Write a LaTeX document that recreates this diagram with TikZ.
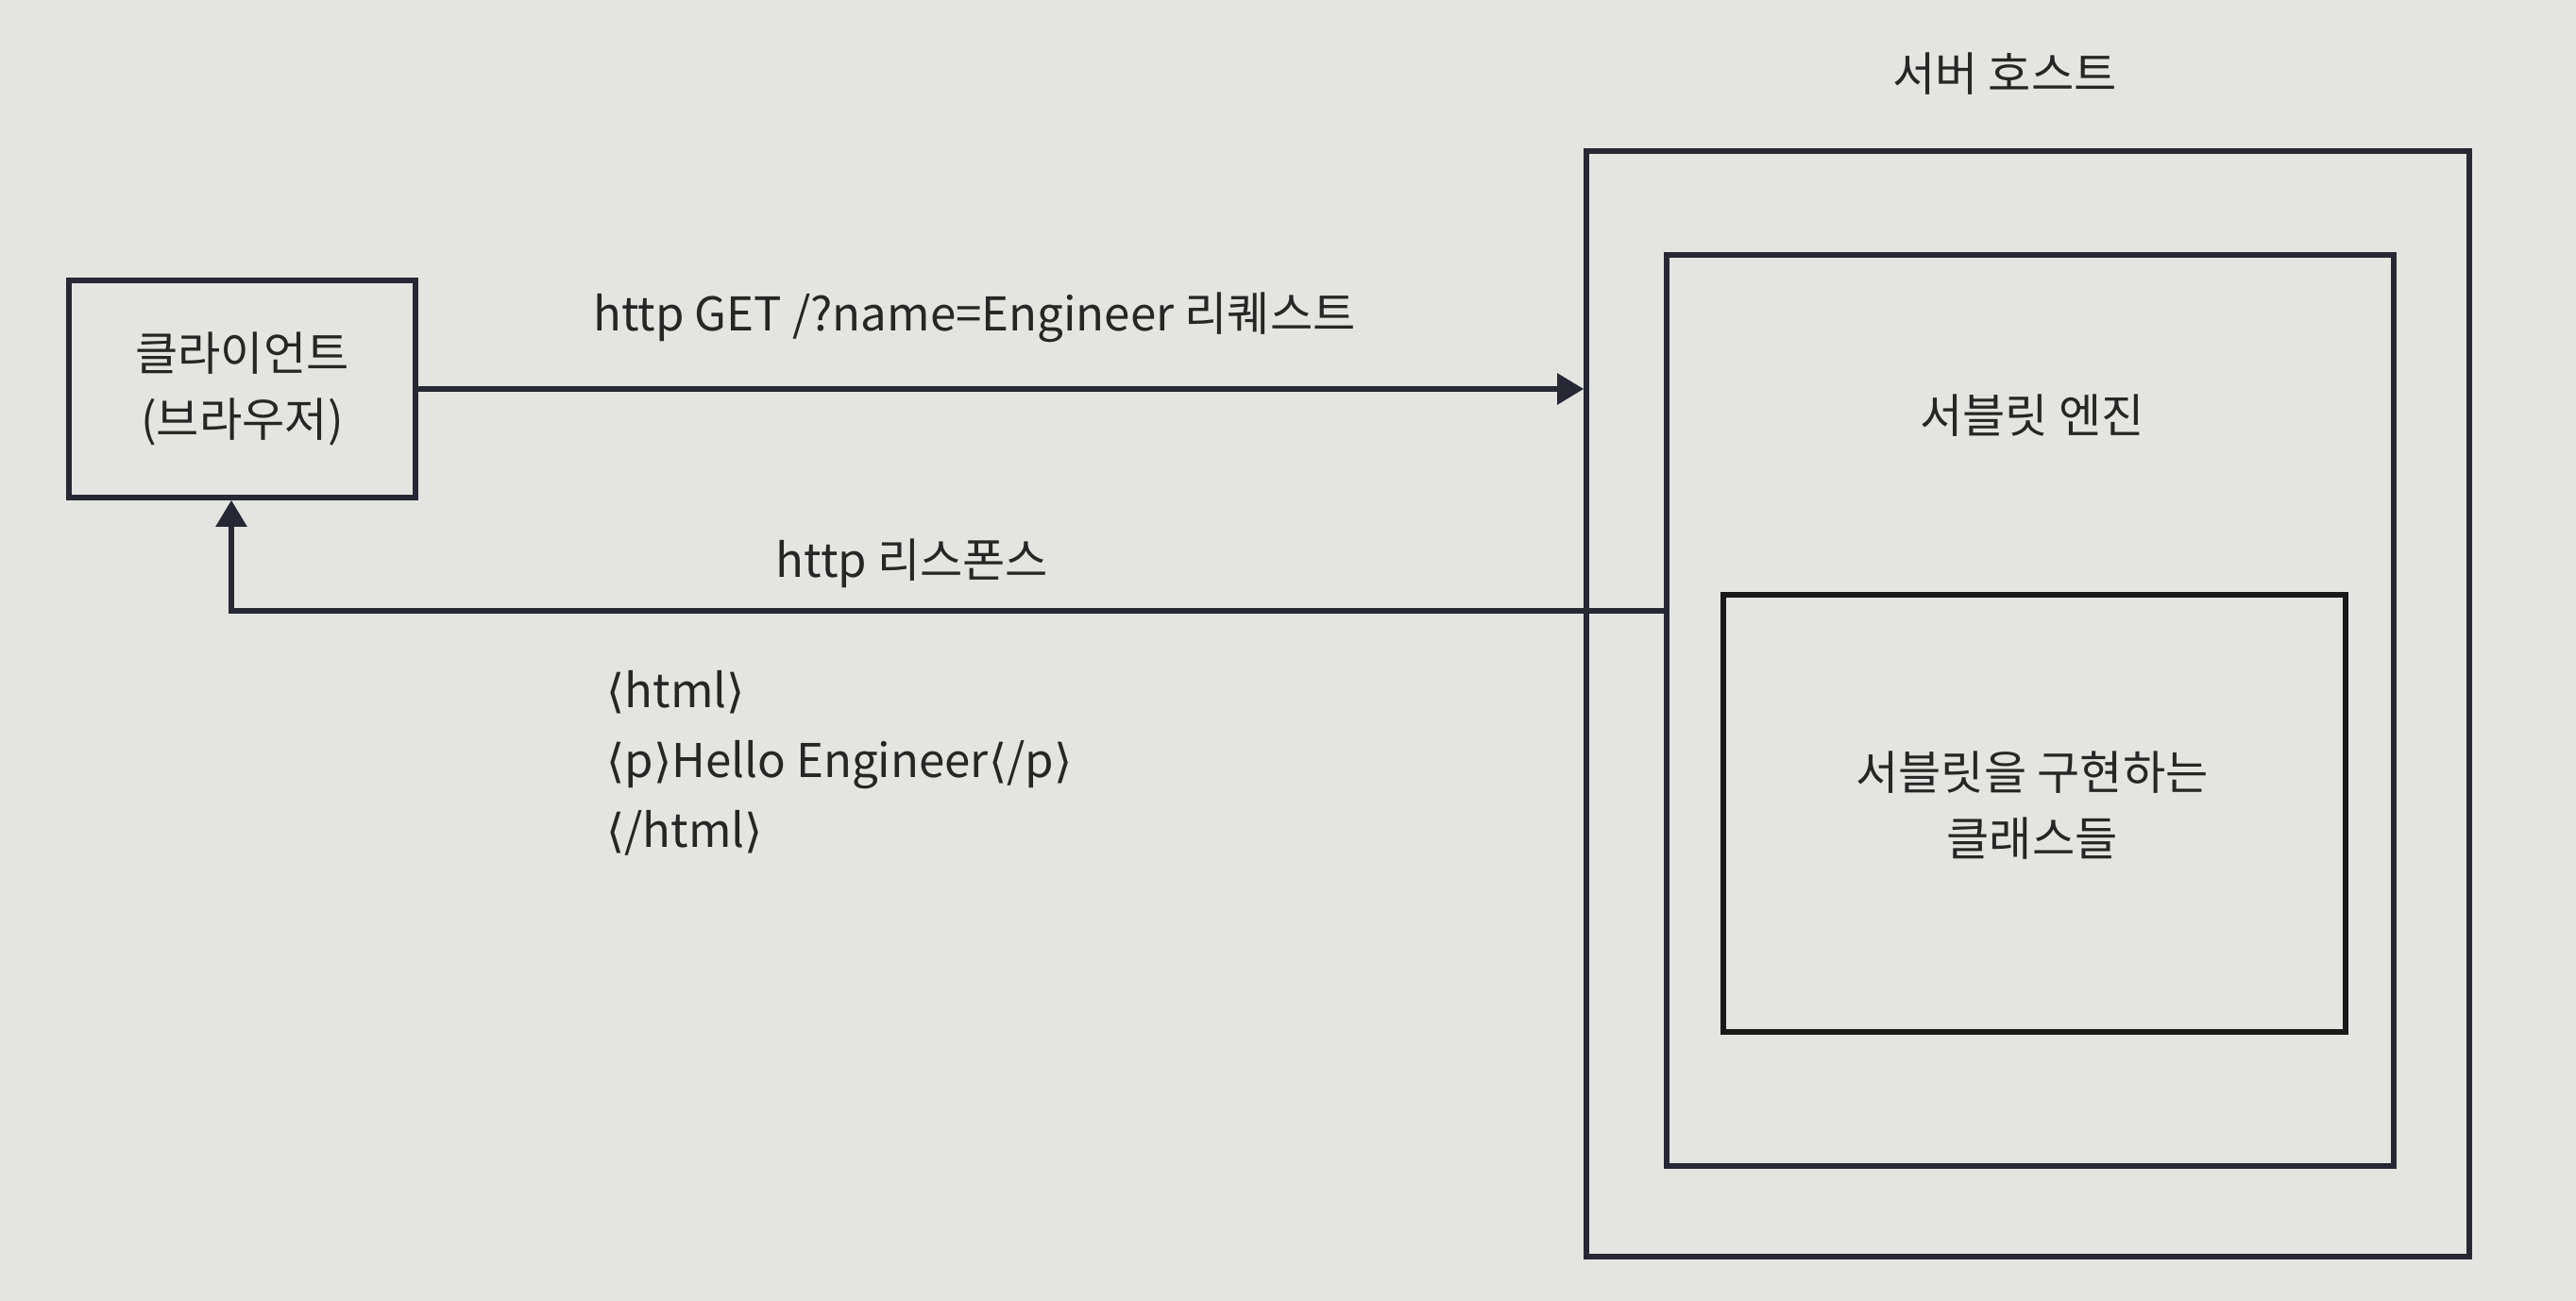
\documentclass[tikz,border=0pt]{standalone}
\usepackage{fontspec}
\setmainfont{Noto Sans CJK KR}
\newfontfamily\symfont{DejaVu Sans}
\usepackage{tikz}
\usetikzlibrary{arrows.meta, positioning}
\definecolor{paper}{RGB}{228,228,224}
\definecolor{inkline}{RGB}{38,40,52}

\begin{document}
\begin{tikzpicture}[
          box/.style={
              draw=inkline,
              line width=1.6pt,
              align=center,
              inner sep=0pt
            },
          lbl/.style={
              font=\fontsize{14}{20}\selectfont,
              text=black!85,
              align=center
            },
          arr/.style={-{Triangle[length=2.8mm, width=3.2mm]}, inkline, line width=1.6pt}
        ]
        \fill[paper] (0,0) rectangle (27.28,-13.78);
        \useasboundingbox (0,0) rectangle (27.28,-13.78);
        \node[box, minimum width=9.35cm, minimum height=11.71cm] (host) at (21.475,-7.455) {};
        \node[box, minimum width=7.7cm, minimum height=9.65cm] (engine) at (21.5,-7.525) {};
        \node[box, minimum width=6.59cm, minimum height=4.63cm, draw=black!90] (impl) at (21.545,-8.615) {};
        \node[box, minimum width=3.67cm, minimum height=2.3cm] (client) at (2.565,-4.12) {};
        \node[lbl] (clienttxt) at (client) {클라이언트\\(브라우저)};
        \node[lbl] (hosttxt) at (21.23,-0.78) {서버 호스트};
        \node[lbl] (enginetxt) at (21.52,-4.40) {서블릿 엔진};
        \node[lbl] (impltxt) at (21.52,-8.53) {서블릿을 구현하는\\클래스들};
        \node[lbl] (reqtxt) at (10.32,-3.36) {http GET /?name=Engineer 리퀘스트};
        \node[lbl] (restxt) at (9.66,-5.97) {http 리스폰스};
        \node[lbl, align=left, anchor=north west, font=\fontsize{14}{21}\selectfont] (body) at (6.3,-6.98)
          {{\symfont ⟨}html{\symfont ⟩}\\{\symfont ⟨}p{\symfont ⟩}Hello Engineer{\symfont ⟨}/p{\symfont ⟩}\\{\symfont ⟨}/html{\symfont ⟩}};
        % request and response
        \coordinate (turn) at (2.45,-6.47);
        \draw[arr] (client.east) -- (client.east -| host.west);
        \draw[arr] (engine.west |- turn) -- (turn) -- (turn |- client.south);
      \end{tikzpicture}
\end{document}
